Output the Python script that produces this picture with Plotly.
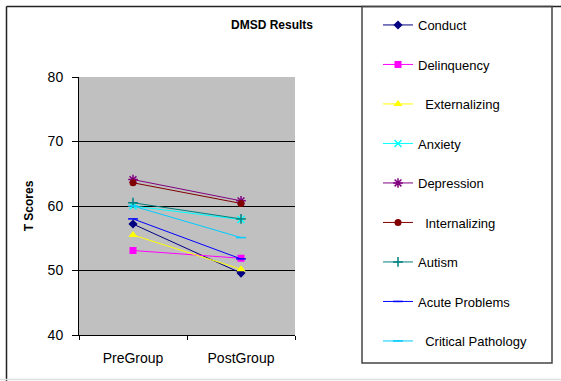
import plotly.graph_objects as go

groups = ["PreGroup", "PostGroup"]
series_names = ["Conduct", "Delinquency", "\u00a0\u00a0Externalizing", "Anxiety", "Depression",
                "\u00a0\u00a0Internalizing", "Autism", "Acute Problems", "\u00a0\u00a0Critical Pathology"]
conduct = [57.2, 49.6]
delinquency = [53.1, 51.9]
externalizing = [55.5, 50.2]
anxiety = [60.0, 57.9]
depression = [64.1, 60.8]
internalizing = [63.6, 60.4]
autism = [60.5, 58.0]
acute_problems = [58.0, 51.8]
critical_pathology = [60.0, 55.1]
series_values = [conduct, delinquency, externalizing, anxiety, depression,
                 internalizing, autism, acute_problems, critical_pathology]
y_ticks = [40, 50, 60, 70, 80]

colors = ["#000080", "#FF00FF", "#FFFF00", "#00FFFF", "#800080",
          "#800000", "#008080", "#0000FF", "#00CCFF"]
symbols = ["diamond", "square", "triangle-up", "x-thin-open", "asterisk-open",
           "circle", "cross-thin-open", "line-ew-open", "line-ew-open"]
sizes = [7, 7, 8, 7, 8, 7, 7, 7, 7]

W, H = 561, 381
L, R, T, B = 79, 295, 77, 335


def px_x(p):
    return (p - L) / (R - L)


def px_y(p):
    return (B - p) / (B - T)


fig = go.Figure()
for i, (name, vals) in enumerate(zip(series_names, series_values)):
    c = colors[i]
    fig.add_trace(go.Scatter(
        x=groups, y=vals, name=name, mode="lines+markers",
        legendgroup=f"g{i}",
        line=dict(color=c, width=1),
        marker=dict(symbol=symbols[i], size=sizes[i], color=c,
                    line=dict(color=c, width=1.5 if "open" in symbols[i] else 0)),
    ))

shapes = [
    dict(type="line", xref="paper", yref="paper", x0=px_x(6.5), x1=px_x(561), y0=px_y(6.5), y1=px_y(6.5),
         line=dict(color="#222222", width=1.5)),
    dict(type="line", xref="paper", yref="paper", x0=px_x(6.5), x1=px_x(6.5), y0=px_y(6.5), y1=px_y(381),
         line=dict(color="#222222", width=1.5)),
    dict(type="line", xref="paper", yref="paper", x0=px_x(0), x1=px_x(561), y0=px_y(379.5), y1=px_y(379.5),
         line=dict(color="#DDDDDD", width=1.5)),
    dict(type="rect", xref="paper", yref="paper", x0=px_x(362), x1=px_x(552), y0=px_y(363), y1=px_y(6.5),
         line=dict(color="#444444", width=1.5), fillcolor="rgba(0,0,0,0)"),
]

fig.update_layout(
    width=W, height=H,
    margin=dict(l=L, r=W - R, t=T, b=H - B, autoexpand=False),
    paper_bgcolor="white",
    plot_bgcolor="#C0C0C0",
    font=dict(family="Liberation Sans, Arial, sans-serif", color="black"),
    showlegend=True,
    legend=dict(xref="container", yref="container", x=378 / W, xanchor="left", y=1 - 10 / H, yanchor="top",
                traceorder="grouped", tracegroupgap=19.6, bgcolor="rgba(0,0,0,0)",
                borderwidth=0, font=dict(size=13), itemwidth=30, maxheight=380),
    shapes=shapes,
    annotations=[dict(text="<b>DMSD Results</b>", xref="paper", yref="paper", x=px_x(272), y=px_y(25),
                      xanchor="center", yanchor="middle", showarrow=False, font=dict(size=12))],
    xaxis=dict(range=[-0.5, 1.5], showgrid=False, showline=True, linecolor="black", linewidth=1,
               ticks="outside", tickson="boundaries", ticklen=4, tickcolor="black",
               tickfont=dict(size=14), ticklabelstandoff=10),
    yaxis=dict(range=[40, 80], tickvals=y_ticks, showgrid=True, gridcolor="black", gridwidth=1,
               showline=True, linecolor="black", linewidth=1, zeroline=False,
               ticks="outside", ticklen=6, tickcolor="black", tickfont=dict(size=14),
               ticklabelstandoff=6,
               title=dict(text="<b>T Scores</b>", font=dict(size=12), standoff=11)),
)

fig.write_html("out.html", config={"displayModeBar": False},
               post_script="document.body.style.margin='0';")
